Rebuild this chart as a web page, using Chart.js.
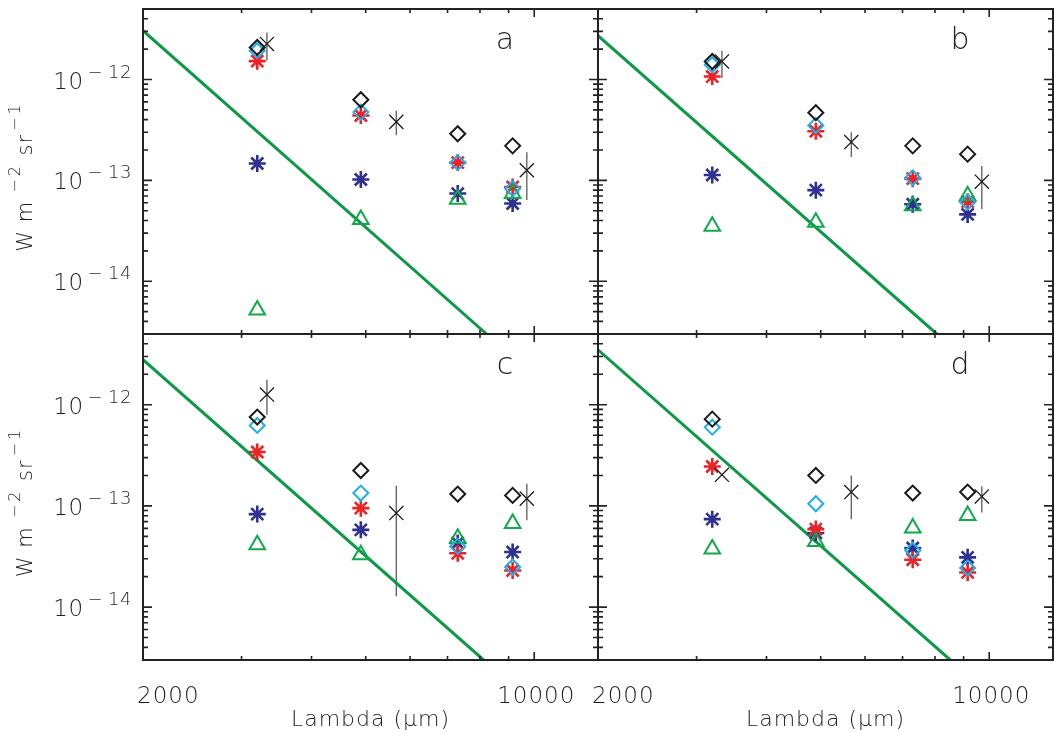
<!DOCTYPE html>
<html>
<head>
<meta charset="utf-8">
<script src="https://cdn.jsdelivr.net/npm/chart.js@4.4.1/dist/chart.umd.min.js"></script>
<style>
  body { margin: 0; background: #fff; }
  #wrap { position: relative; width: 1054px; height: 733px; }
  #wrap canvas { position: absolute; left: 0; top: 0; }
</style>
</head>
<body>
<div id="wrap">
  <canvas id="panelA" width="1054" height="733"></canvas>
  <canvas id="panelB" width="1054" height="733"></canvas>
  <canvas id="panelC" width="1054" height="733"></canvas>
  <canvas id="panelD" width="1054" height="733"></canvas>
</div>
<script>
// wavelengths of the model bands and of the measured points
const lambdaModel = [3200, 4900, 7300, 9150];
const lambdaObs = [3330, 5670, 9700];

// axis ranges and labelled ticks
const xRange = [2000, 13000];
const yRange = [3e-15, 5e-12];
const xTickLabels = [2000, 10000];
const yTickExponents = [-14, -13, -12];

// panel a
const aBlack = [2.08e-12, 6.3e-13, 2.9e-13, 2.2e-13];
const aCyan = [1.93e-12, 4.75e-13, 1.5e-13, 8.3e-14];
const aRed = [1.52e-12, 4.4e-13, 1.5e-13, 8.6e-14];
const aBlue = [1.47e-13, 1.02e-13, 7.4e-14, 5.9e-14];
const aTri = [5.2e-15, 4.1e-14, 6.5e-14, 7.4e-14];
const aObs = [2.25e-12, 3.8e-13, 1.26e-13];
const aObsLo = [1.54e-12, 2.8e-13, 6.4e-14];
const aObsHi = [2.93e-12, 4.9e-13, 1.9e-13];
const aFitX = [2000, 8220];
const aFitY = [3.05e-12, 3e-15];

// panel b
const bBlack = [1.51e-12, 4.69e-13, 2.2e-13, 1.82e-13];
const bCyan = [1.40e-12, 3.5e-13, 1.06e-13, 6.1e-14];
const bRed = [1.07e-12, 3.07e-13, 1.04e-13, 6.15e-14];
const bBlue = [1.13e-13, 8.0e-14, 5.8e-14, 4.6e-14];
const bTri = [3.5e-14, 3.85e-14, 5.6e-14, 7.05e-14];
const bObs = [1.51e-12, 2.4e-13, 9.7e-14];
const bObsLo = [1.04e-12, 1.71e-13, 5.2e-14];
const bObsHi = [1.93e-12, 3.0e-13, 1.39e-13];
const bFitX = [2000, 8060];
const bFitY = [2.72e-12, 3e-15];

// panel c
const cBlack = [7.55e-13, 2.24e-13, 1.31e-13, 1.27e-13];
const cCyan = [6.24e-13, 1.34e-13, 3.98e-14, 2.49e-14];
const cRed = [3.41e-13, 9.5e-14, 3.4e-14, 2.3e-14];
const cBlue = [8.3e-14, 5.8e-14, 4.3e-14, 3.5e-14];
const cTri = [4.14e-14, 3.3e-14, 4.8e-14, 6.7e-14];
const cObs = [1.26e-12, 8.5e-14, 1.18e-13];
const cObsLo = [7.97e-13, 1.28e-14, 7.2e-14];
const cObsHi = [1.77e-12, 1.58e-13, 1.66e-13];
const cFitX = [2000, 8120];
const cFitY = [2.79e-12, 3e-15];

// panel d
const dBlack = [7.2e-13, 2.0e-13, 1.34e-13, 1.37e-13];
const dCyan = [6.0e-13, 1.05e-13, 3.63e-14, 2.43e-14];
const dRed = [2.45e-13, 5.9e-14, 2.94e-14, 2.2e-14];
const dBlue = [7.4e-14, 5.4e-14, 3.84e-14, 3.1e-14];
const dTri = [3.75e-14, 4.45e-14, 6.05e-14, 8.05e-14];
const dObs = [2.03e-13, 1.37e-13, 1.24e-13];
const dObsLo = [null, 7.4e-14, 8.6e-14];
const dObsHi = [null, 2.0e-13, 1.56e-13];
const dFitX = [2000, 8520];
const dFitY = [3.49e-12, 3e-15];

const FONT = '"DejaVu Sans", sans-serif';
const INK = '#222';
const TEXT = '#1e1e1e';
const W = 1054, H = 733;

const panels = [
  { id: 'panelA', letter: 'a', box: [143, 9, 598, 334], yLabels: true, xLabels: false,
    black: aBlack, cyan: aCyan, red: aRed, blue: aBlue, tri: aTri,
    obs: aObs, lo: aObsLo, hi: aObsHi, fitX: aFitX, fitY: aFitY },
  { id: 'panelB', letter: 'b', box: [598, 9, 1053, 334], yLabels: false, xLabels: false,
    black: bBlack, cyan: bCyan, red: bRed, blue: bBlue, tri: bTri,
    obs: bObs, lo: bObsLo, hi: bObsHi, fitX: bFitX, fitY: bFitY },
  { id: 'panelC', letter: 'c', box: [143, 334, 598, 660], yLabels: true, xLabels: true,
    black: cBlack, cyan: cCyan, red: cRed, blue: cBlue, tri: cTri,
    obs: cObs, lo: cObsLo, hi: cObsHi, fitX: cFitX, fitY: cFitY },
  { id: 'panelD', letter: 'd', box: [598, 334, 1053, 660], yLabels: false, xLabels: true,
    black: dBlack, cyan: dCyan, red: dRed, blue: dBlue, tri: dTri,
    obs: dObs, lo: dObsLo, hi: dObsHi, fitX: dFitX, fitY: dFitY }
];

function pairs(xs, ys) {
  return xs.map((x, i) => ({ x: x, y: ys[i] }));
}

// text made of pieces, some of them raised as superscripts
function drawRich(ctx, parts, x, y, align, spacing) {
  ctx.letterSpacing = (spacing || 0) + 'px';
  let total = 0;
  parts.forEach(p => {
    ctx.font = '200 ' + p.size + 'px ' + FONT;
    p.w = ctx.measureText(p.text).width;
    total += p.w + (p.gap || 0);
  });
  let cx = align === 'right' ? x - total : align === 'center' ? x - total / 2 : x;
  parts.forEach(p => {
    ctx.font = '200 ' + p.size + 'px ' + FONT;
    cx += p.gap || 0;
    ctx.fillText(p.text, cx, y - (p.rise || 0));
    cx += p.w;
  });
  ctx.letterSpacing = '0px';
  return total;
}

// log ticks inside the range: decade marks long, the rest short
function logTicks(min, max) {
  const out = [];
  for (let e = Math.floor(Math.log10(min)); e <= Math.ceil(Math.log10(max)); e++) {
    for (let k = 1; k <= 9; k++) {
      const v = k * Math.pow(10, e);
      if (v > min * 1.0001 && v < max * 0.9999) out.push({ v: v, major: k === 1 });
    }
  }
  return out;
}

function framePlugin(p) {
  return {
    id: 'frame' + p.letter,
    beforeDatasetsDraw(chart) {
      // error bars sit under the crosses
      const { ctx, scales: { x, y } } = chart;
      ctx.save();
      ctx.strokeStyle = '#5c5c5c';
      ctx.lineWidth = 1.3;
      ctx.beginPath();
      lambdaObs.forEach((l, i) => {
        if (p.lo[i] == null) return;
        const px = x.getPixelForValue(l);
        ctx.moveTo(px, y.getPixelForValue(p.lo[i]));
        ctx.lineTo(px, y.getPixelForValue(p.hi[i]));
      });
      ctx.stroke();
      ctx.restore();
    },
    afterDraw(chart) {
      const { ctx, chartArea: a, scales: { x, y } } = chart;
      ctx.save();
      ctx.strokeStyle = INK;
      ctx.lineWidth = 1.6;
      ctx.beginPath();
      logTicks(yRange[0], yRange[1]).forEach(t => {
        const py = y.getPixelForValue(t.v);
        const len = t.major ? 9 : 5;
        ctx.moveTo(a.left, py); ctx.lineTo(a.left + len, py);
        ctx.moveTo(a.right, py); ctx.lineTo(a.right - len, py);
      });
      logTicks(xRange[0], xRange[1]).forEach(t => {
        const px = x.getPixelForValue(t.v);
        const len = t.major ? 8 : 4;
        ctx.moveTo(px, a.bottom); ctx.lineTo(px, a.bottom - len);
        ctx.moveTo(px, a.top); ctx.lineTo(px, a.top + len);
      });
      ctx.stroke();
      ctx.lineWidth = 2;
      ctx.strokeRect(a.left, a.top, a.right - a.left, a.bottom - a.top);

      ctx.fillStyle = TEXT;
      ctx.textBaseline = 'alphabetic';
      ctx.textAlign = 'left';

      // panel letter
      drawRich(ctx, [{ text: p.letter, size: 30 }], a.right - 93, a.top + 40, 'center');

      if (p.yLabels) {
        yTickExponents.forEach(e => {
          const py = y.getPixelForValue(Math.pow(10, e));
          drawRich(ctx, [
            { text: '10', size: 23 },
            { text: '\u2212', size: 18, rise: 11, gap: 4 },
            { text: String(-e), size: 18, rise: 11, gap: 5 }
          ], a.left - 11, py + 9, 'right', 0.5);
        });
        ctx.save();
        ctx.translate(32, (a.top + a.bottom) / 2 + 6);
        ctx.rotate(-Math.PI / 2);
        drawRich(ctx, [
          { text: 'W m', size: 21 },
          { text: '\u2212', size: 16, rise: 12, gap: 8 },
          { text: '2', size: 16, rise: 12, gap: 2 },
          { text: ' sr', size: 21, gap: 2 },
          { text: '\u2212', size: 16, rise: 12, gap: 3 },
          { text: '1', size: 16, rise: 12, gap: 2 }
        ], 0, 0, 'center', 1);
        ctx.restore();
      }

      if (p.xLabels) {
        xTickLabels.forEach(v => {
          const px = x.getPixelForValue(v);
          ctx.font = '200 23px ' + FONT;
          const w = ctx.measureText(String(v)).width + 4;
          const cx = Math.max(px + 2, a.left - 6 + w / 2);
          drawRich(ctx, [{ text: String(v), size: 23 }], cx, a.bottom + 43, 'center', 1);
        });
        drawRich(ctx, [{ text: 'Lambda (\u03bcm)', size: 22 }], (a.left + a.right) / 2, a.bottom + 66, 'center', 1);
      }
      ctx.restore();
    }
  };
}

function pointSet(data, style, color, radius, width) {
  return {
    data: data,
    pointStyle: style,
    pointRadius: radius,
    pointHoverRadius: radius,
    pointBorderColor: color,
    pointBackgroundColor: 'rgba(0,0,0,0)',
    pointBorderWidth: width,
    showLine: false
  };
}

panels.forEach(p => {
  const [l, t, r, b] = p.box;
  new Chart(document.getElementById(p.id), {
    type: 'scatter',
    data: {
      datasets: [
        pointSet(pairs(lambdaObs, p.obs), 'crossRot', '#1a1a1a', 10, 1.3),
        pointSet(pairs(lambdaModel, p.black), 'rectRot', '#1a1a1a', 7.5, 2),
        pointSet(pairs(lambdaModel, p.cyan), 'rectRot', '#1fb0ea', 7.5, 2),
        pointSet(pairs(lambdaModel, p.tri), 'triangle', '#12a84c', 9, 2),
        pointSet(pairs(lambdaModel, p.red), 'star', '#ec2227', 8.5, 2.6),
        pointSet(pairs(lambdaModel, p.blue), 'star', '#2e3192', 8.5, 2.6),
        {
          data: pairs(p.fitX, p.fitY),
          showLine: true,
          borderColor: '#0c9a48',
          borderWidth: 3,
          pointRadius: 0
        }
      ]
    },
    options: {
      responsive: false,
      animation: false,
      events: [],
      layout: { autoPadding: false, padding: { left: l, top: t, right: W - r, bottom: H - b } },
      plugins: { legend: { display: false }, tooltip: { enabled: false } },
      scales: {
        x: { type: 'logarithmic', min: xRange[0], max: xRange[1], display: false },
        y: { type: 'logarithmic', min: yRange[0], max: yRange[1], display: false }
      }
    },
    plugins: [framePlugin(p)]
  });
});
</script>
</body>
</html>
